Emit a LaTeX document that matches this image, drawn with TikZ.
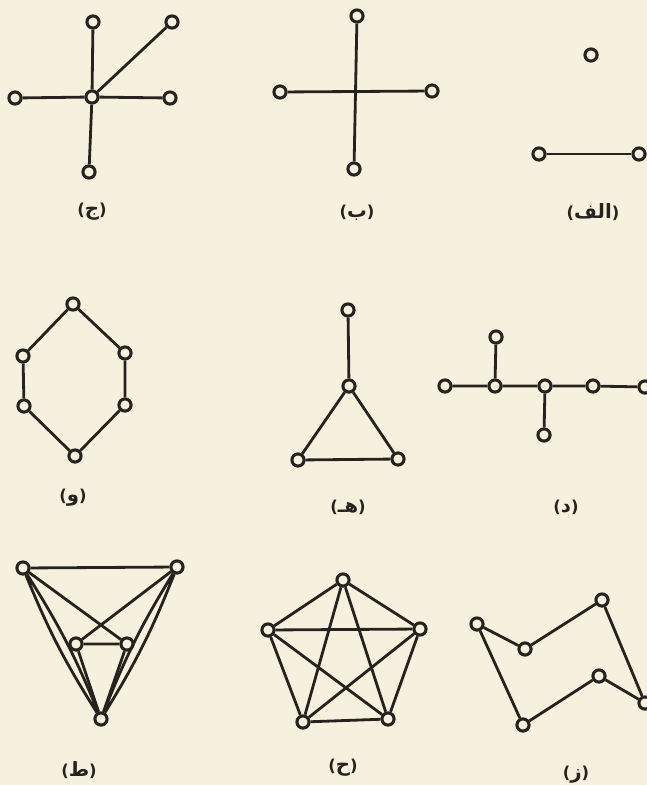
\documentclass[tikz,border=0pt]{standalone}
\usepackage{fontspec}
\newfontfamily\arabicfont[Script=Arabic,Scale=1.2]{DejaVu Sans}
\newfontfamily\parenfont{DejaVu Sans}
\TeXXeTstate=1
\usepackage{tikz}
\definecolor{paper}{RGB}{245,241,222}
\definecolor{ink}{RGB}{38,34,30}
\newcommand{\grlabel}[1]{{\parenfont(}{\arabicfont\beginR #1\endR}{\parenfont)}}

\begin{document}
\begin{tikzpicture}[x=0.03cm, y=-0.03cm, ink, line width=2.4pt, v/.style={circle, draw=ink, fill=paper, line width=2.6pt, minimum size=10.4pt, inner sep=0pt}, lbl/.style={font=\bfseries\fontsize{14}{16}\selectfont, text=ink}]
\fill[paper] (0,0) rectangle (647,785);
\useasboundingbox (0,0) rectangle (647,785);
% row 1
\node[v] (j0) at (92,97) {}; \node[v] (j1) at (93,22) {}; \node[v] (j2) at (172,22) {};
\node[v] (j3) at (15,98) {}; \node[v] (j4) at (170,98) {}; \node[v] (j5) at (89,172) {};
\node[lbl] (jl) at (92,212) {\grlabel{ج}};
\draw (j0)--(j1) (j0)--(j2) (j0)--(j3) (j0)--(j4) (j0)--(j5);
\node[v] (b1) at (357,16) {}; \node[v] (b2) at (280,92) {}; \node[v] (b3) at (432,91) {}; \node[v] (b4) at (354,169) {};
\node[lbl] (bl) at (357,213) {\grlabel{ب}};
\draw (b1)--(b4) (b2)--(b3);
\node[v] (a1) at (591,55) {}; \node[v] (a2) at (539,154) {}; \node[v] (a3) at (639,154) {};
\node[lbl] (al) at (593,212) {\grlabel{الف}};
\draw (a2)--(a3);
% row 2
\node[v] (w1) at (73,304) {}; \node[v] (w2) at (23,356) {}; \node[v] (w3) at (125,353) {};
\node[v] (w4) at (24,406) {}; \node[v] (w5) at (125,405) {}; \node[v] (w6) at (75,456) {};
\node[lbl] (wl) at (73,498) {\grlabel{و}};
\draw (w1)--(w2)--(w4)--(w6)--(w5)--(w3)--(w1);
\node[v] (h1) at (348,310) {}; \node[v] (h2) at (349,386) {}; \node[v] (h3) at (298,460) {}; \node[v] (h4) at (398,459) {};
\node[lbl] (hl) at (348,507) {\grlabel{هـ}};
\draw (h1)--(h2) (h2)--(h3)--(h4)--(h2);
\node[v] (d1) at (445,386) {}; \node[v] (d2) at (495,386) {}; \node[v] (d3) at (496,337) {}; \node[v] (d4) at (545,386) {};
\node[v] (d5) at (544,435) {}; \node[v] (d6) at (593,386) {}; \node[v] (d7) at (645,387) {};
\node[lbl] (dl) at (566,507) {\grlabel{د}};
\draw (d1)--(d2)--(d4)--(d6)--(d7) (d2)--(d3) (d4)--(d5);
% row 3
\node[v] (t1) at (23,568) {}; \node[v] (t2) at (177,567) {}; \node[v] (t3) at (76,644) {};
\node[v] (t4) at (127,644) {}; \node[v] (t5) at (101,719) {};
\node[lbl] (tl) at (79,770) {\grlabel{ط}};
\draw (t1)--(t2) (t1)--(t4) (t2)--(t3) (t3)--(t4) (t3)--(t5) (t4)--(t5);
\draw (t1) to[bend left=5] (t5) (t1) to[bend right=5] (t5) (t2) to[bend left=5] (t5) (t2) to[bend right=5] (t5);
\node[v] (k1) at (343,580) {}; \node[v] (k2) at (268,630) {}; \node[v] (k3) at (420,629) {};
\node[v] (k4) at (303,722) {}; \node[v] (k5) at (388,719) {};
\node[lbl] (kl) at (343,768) {\grlabel{ح}};
\draw (k1)--(k2) (k1)--(k3) (k1)--(k4) (k1)--(k5) (k2)--(k3) (k2)--(k4) (k2)--(k5) (k3)--(k4) (k3)--(k5) (k4)--(k5);
\node[v] (z1) at (477,624) {}; \node[v] (z2) at (525,649) {}; \node[v] (z3) at (602,600) {};
\node[v] (z4) at (645,703) {}; \node[v] (z5) at (599,676) {}; \node[v] (z6) at (523,725) {};
\node[lbl] (zl) at (576,775) {\grlabel{ز}};
\draw (z1)--(z2)--(z3)--(z4)--(z5)--(z6)--(z1);
\end{tikzpicture}
\end{document}
